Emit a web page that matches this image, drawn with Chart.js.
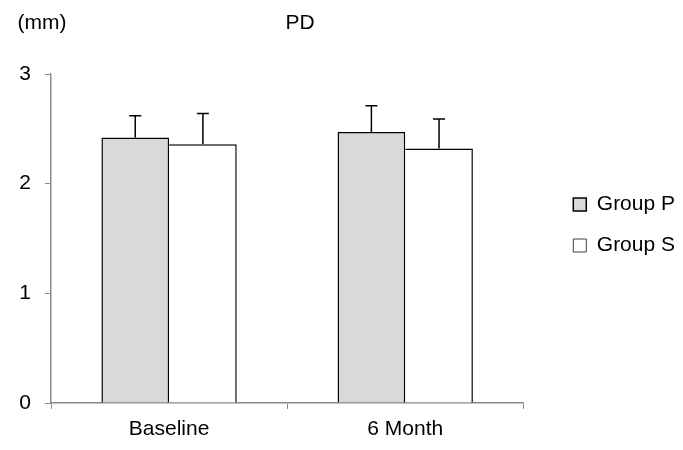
<!DOCTYPE html>
<html>
<head>
<meta charset="utf-8">
<script src="https://cdn.jsdelivr.net/npm/chart.js@4/dist/chart.umd.min.js"></script>
<style>
  html, body { margin: 0; padding: 0; background: #fff; }
  #wrap { width: 683px; height: 450px; }
</style>
</head>
<body>
<div id="wrap"><canvas id="pdChart" width="683" height="450"></canvas></div>
<script>
// data
const categories = ["Baseline", "6 Month"];
const groupNames = ["Group P", "Group S"];
const groupP = [2.42, 2.47];
const groupS = [2.36, 2.32];
const sdP = [0.20, 0.24];
const sdS = [0.28, 0.27];
const yTicks = [0, 1, 2, 3];

const FONT = "'Liberation Sans', Arial, sans-serif";
const FONT_SIZE = 21;
const AXIS_GREY = "#8a8a8a";

// draws the upward error bars from the library's own scale
const errorBars = {
  id: "errorBars",
  afterDatasetsDraw(chart) {
    const ctx = chart.ctx;
    const yScale = chart.scales.y;
    ctx.save();
    ctx.strokeStyle = "#000";
    ctx.lineWidth = 1.5;
    chart.data.datasets.forEach((ds, i) => {
      const meta = chart.getDatasetMeta(i);
      meta.data.forEach((bar, j) => {
        const top = yScale.getPixelForValue(ds.data[j] + ds.sd[j]);
        ctx.beginPath();
        ctx.moveTo(bar.x, bar.y);
        ctx.lineTo(bar.x, top);
        ctx.moveTo(bar.x - 6, top);
        ctx.lineTo(bar.x + 6, top);
        ctx.stroke();
      });
    });
    ctx.restore();
  }
};

// "(mm)" unit label and "PD" heading (title box only reserves the space)
const headings = {
  id: "headings",
  afterLayout(chart) {
    // push the legend a bit away from the plot, like the original
    chart.legend.left += 30;
    chart.legend.right += 30;
  },
  afterDraw(chart) {
    const ctx = chart.ctx;
    const area = chart.chartArea;
    ctx.save();
    ctx.fillStyle = "#000";
    ctx.font = FONT_SIZE + "px " + FONT;
    ctx.textBaseline = "middle";
    ctx.textAlign = "center";
    ctx.fillText("(mm)", 42, 23);
    ctx.fillText("PD", area.left + 249, 23);
    ctx.restore();
  }
};

new Chart(document.getElementById("pdChart"), {
  type: "bar",
  data: {
    labels: categories,
    datasets: [
      {
        label: groupNames[0],
        data: groupP,
        sd: sdP,
        backgroundColor: "#d9d9d9",
        borderColor: "#000",
        borderWidth: 1.5
      },
      {
        label: groupNames[1],
        data: groupS,
        sd: sdS,
        backgroundColor: "#ffffff",
        borderColor: "#000",
        borderWidth: { top: 1.5, right: 1.5, bottom: 0, left: 0 }
      }
    ]
  },
  options: {
    responsive: false,
    animation: false,
    layout: { padding: { top: 0, right: 28, bottom: 0, left: 0 } },
    datasets: {
      bar: { categoryPercentage: 0.573, barPercentage: 1.0 }
    },
    scales: {
      x: {
        grid: { display: true, drawOnChartArea: false, tickLength: 6, color: AXIS_GREY, offset: true },
        border: { color: AXIS_GREY, width: 1.5 },
        ticks: { color: "#000", font: { family: FONT, size: FONT_SIZE }, padding: 8 },
        afterFit: s => { s.height = 47; }
      },
      y: {
        min: 0,
        max: 3,
        afterBuildTicks: s => { s.ticks = yTicks.map(v => ({ value: v })); },
        grid: { display: true, drawOnChartArea: false, tickLength: 6, color: AXIS_GREY },
        border: { color: AXIS_GREY, width: 1.5 },
        ticks: { color: "#000", font: { family: FONT, size: FONT_SIZE }, padding: 14 },
        afterFit: s => { s.width = 51; }
      }
    },
    plugins: {
      title: {
        display: true,
        text: "PD",
        fullSize: false,
        color: "rgba(0,0,0,0)",
        font: { family: FONT, size: 20 },
        padding: { top: 11, bottom: 39 }
      },
      legend: {
        position: "right",
        labels: {
          color: "#000",
          font: { family: FONT, size: FONT_SIZE },
          boxWidth: 13,
          boxHeight: 13,
          padding: 20
        }
      },
      tooltip: { enabled: false }
    }
  },
  plugins: [errorBars, headings]
});
</script>
</body>
</html>
